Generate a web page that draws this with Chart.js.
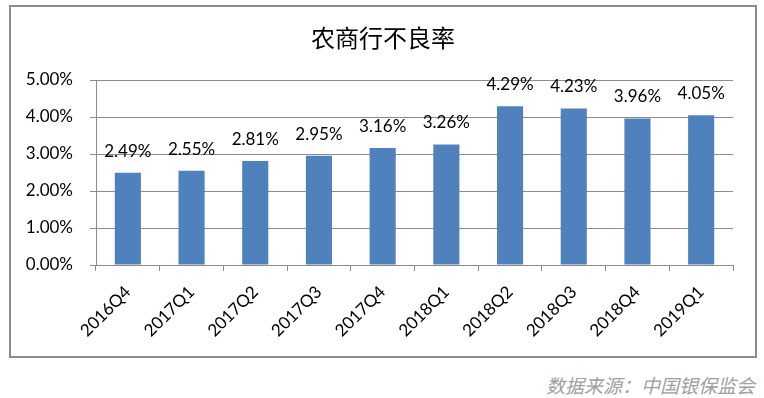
<!DOCTYPE html>
<html>
<head>
<meta charset="utf-8">
<script src="https://cdn.jsdelivr.net/npm/chart.js@4/dist/chart.umd.min.js"></script>
<style>
  body { margin: 0; background: #fff; width: 764px; height: 398px; position: relative; overflow: hidden; }
  #box { position: absolute; left: 9px; top: 5px; width: 744px; height: 349px; border: 2px solid #8c8c8c; }
  #source { position: absolute; right: 9px; top: 371px; font-family: "Noto Sans CJK SC", sans-serif; font-style: italic; font-size: 19px; color: #a0a0a0; }
</style>
</head>
<body>
<div id="box"><canvas id="grafico" width="744" height="349"></canvas></div>
<div id="source">数据来源：中国银保监会</div>
<script>
// dados do gráfico
const titulo = '农商行不良率';
const trimestres = ['2016Q4', '2017Q1', '2017Q2', '2017Q3', '2017Q4', '2018Q1', '2018Q2', '2018Q3', '2018Q4', '2019Q1'];
const taxaInadimplencia = [2.49, 2.55, 2.81, 2.95, 3.16, 3.26, 4.29, 4.23, 3.96, 4.05];
const ticksY = [0, 1, 2, 3, 4, 5];

const fonteNum = 'Lato';

// rótulos de valor em cima das barras + título centrado no quadro
const rotulosPlugin = {
  id: 'rotulos',
  afterDatasetsDraw(chart) {
    const ctx = chart.ctx;
    const meta = chart.getDatasetMeta(0);
    ctx.save();
    ctx.font = '17px ' + fonteNum;
    ctx.fillStyle = '#000';
    ctx.textAlign = 'center';
    ctx.textBaseline = 'alphabetic';
    meta.data.forEach((bar, i) => {
      ctx.fillText(taxaInadimplencia[i].toFixed(2) + '%', bar.x, bar.y - 16);
    });
    ctx.font = '24px "Noto Sans CJK SC"';
    ctx.textBaseline = 'middle';
    ctx.fillText(titulo, chart.width / 2, 31);
    ctx.restore();
  }
};

new Chart(document.getElementById('grafico'), {
  type: 'bar',
  data: {
    labels: trimestres,
    datasets: [{
      data: taxaInadimplencia,
      backgroundColor: '#4f81bd',
      barPercentage: 0.41,
      categoryPercentage: 1
    }]
  },
  options: {
    responsive: false,
    animation: false,
    layout: { padding: { left: 0, right: 22, top: 73, bottom: 0 } },
    plugins: {
      legend: { display: false },
      tooltip: { enabled: false },
      title: { display: false }
    },
    scales: {
      y: {
        min: 0,
        max: 5,
        afterFit(scale) { scale.width = 85; },
        afterBuildTicks(scale) { scale.ticks = ticksY.map(v => ({ value: v })); },
        ticks: {
          color: '#000',
          padding: 17,
          font: { family: fonteNum, size: 17 },
          callback: v => v.toFixed(2) + '%'
        },
        grid: { color: '#8c8c8c', tickLength: 6, lineWidth: 1 },
        border: { color: '#8c8c8c' }
      },
      x: {
        afterFit(scale) { scale.height = 91; },
        ticks: {
          color: '#000',
          padding: 11,
          maxRotation: 45,
          minRotation: 45,
          font: { family: fonteNum, size: 17 }
        },
        grid: { drawOnChartArea: false, color: '#8c8c8c', tickLength: 6 },
        border: { color: '#8c8c8c' }
      }
    }
  },
  plugins: [rotulosPlugin]
});
</script>
</body>
</html>
